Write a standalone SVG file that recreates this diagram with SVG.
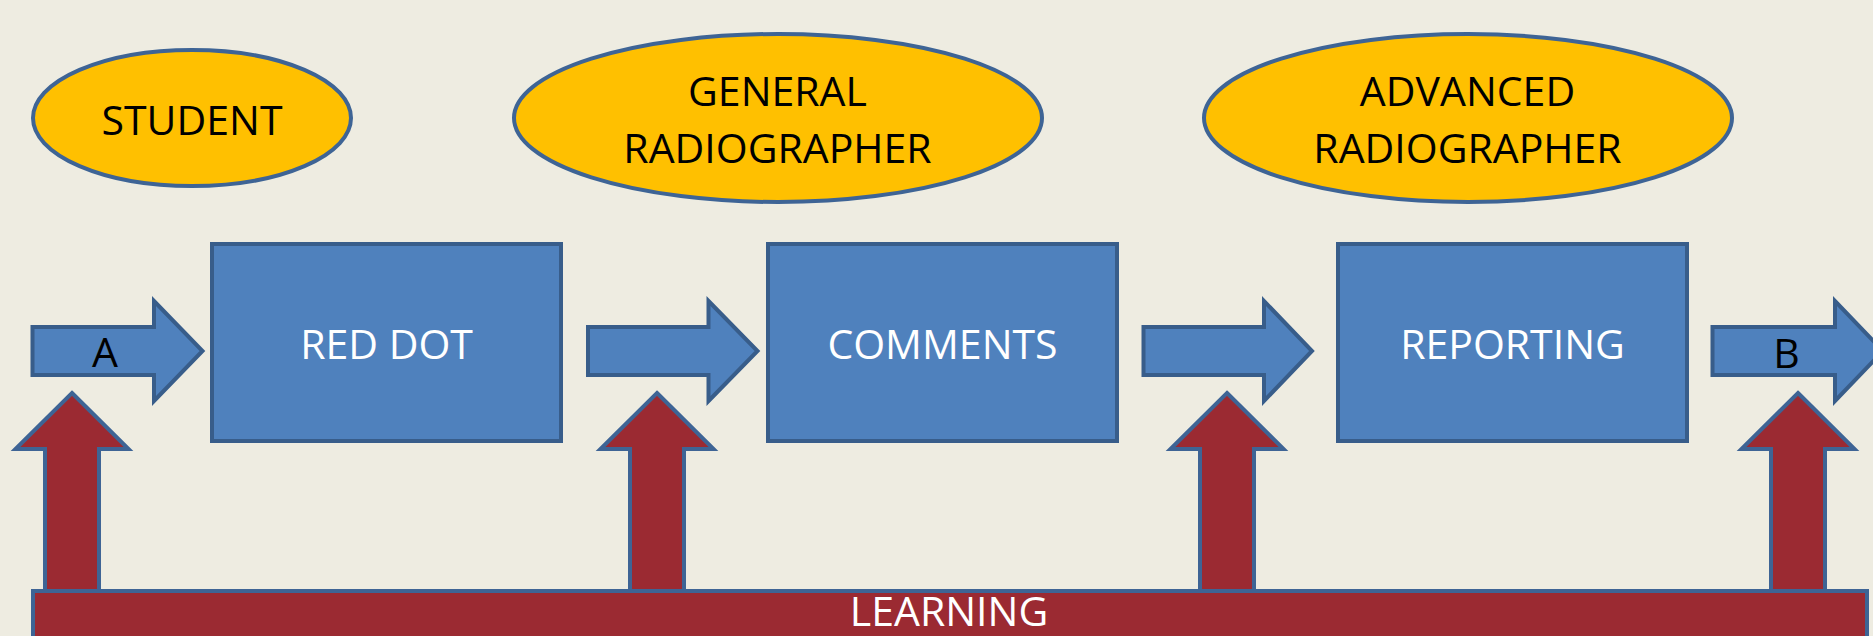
<svg xmlns="http://www.w3.org/2000/svg" width="1873" height="636" viewBox="0 0 1873 636">
<style>
.ell{fill:#FFC000;stroke:#3E6495;stroke-width:4}
.box{fill:#4F81BD;stroke:#385D8A;stroke-width:4}
.barrow{fill:#4F81BD;stroke:#385D8A;stroke-width:4;stroke-linejoin:miter}
.rarrow{fill:#9B2A32;stroke:#3E6495;stroke-width:4;stroke-linejoin:miter}
.bar{fill:#9B2A32;stroke:#3E6495;stroke-width:4}
text{font-family:"Open Sans","Liberation Sans",sans-serif;font-size:41px;text-anchor:middle}
.dk{fill:#000}
.wh{fill:#fff}
</style>
<rect x="0" y="0" width="1873" height="636" fill="#EEECE1"/>
<g id="student">
<ellipse class="ell" cx="192" cy="118" rx="159" ry="68"/>
<text class="dk" x="192" y="135">STUDENT</text>
</g>
<g id="general">
<ellipse class="ell" cx="778" cy="118" rx="264" ry="84"/>
<text class="dk" x="777.5" y="106">GENERAL</text>
<text class="dk" x="777.5" y="163">RADIOGRAPHER</text>
</g>
<g id="advanced">
<ellipse class="ell" cx="1468" cy="118" rx="264" ry="84"/>
<text class="dk" x="1467.5" y="106">ADVANCED</text>
<text class="dk" x="1467.5" y="163">RADIOGRAPHER</text>
</g>
<g id="reddot">
<rect class="box" x="212" y="244" width="349" height="197"/>
<text class="wh" x="386.5" y="359">RED DOT</text>
</g>
<g id="comments">
<rect class="box" x="768" y="244" width="349" height="197"/>
<text class="wh" x="942.5" y="359">COMMENTS</text>
</g>
<g id="reporting">
<rect class="box" x="1338" y="244" width="349" height="197"/>
<text class="wh" x="1512.5" y="359">REPORTING</text>
</g>
<g id="connectors">
<g id="arrowA">
<path class="barrow" d="M32.5 327 H154 V301 L202.5 351 L154 401 V375 H32.5 Z"/>
<text class="dk" x="105" y="367">A</text>
</g>
<path class="barrow" d="M588 327 H708.5 V301 L757.5 351 L708.5 401 V375 H588 Z"/>
<path class="barrow" d="M1143.5 327 H1264 V301 L1312 351 L1264 401 V375 H1143.5 Z"/>
<g id="arrowB">
<path class="barrow" d="M1712.5 327 H1835 V301 L1883 351 L1835 401 V375 H1712.5 Z"/>
<text class="dk" x="1786.5" y="367.5">B</text>
</g>
<path class="rarrow" d="M72 393 L128.5 449 H99 V600 H45 V449 H15.5 Z"/>
<path class="rarrow" d="M657 393 L713.5 449 H684 V600 H630 V449 H600.5 Z"/>
<path class="rarrow" d="M1227 393 L1283.5 449 H1254 V600 H1200 V449 H1170.5 Z"/>
<path class="rarrow" d="M1798 393 L1854.5 449 H1825 V600 H1771 V449 H1741.5 Z"/>
</g>
<g id="learning">
<rect class="bar" x="33" y="591" width="1834" height="80"/>
<text class="wh" x="949" y="626" font-size="39">LEARNING</text>
</g>
</svg>
